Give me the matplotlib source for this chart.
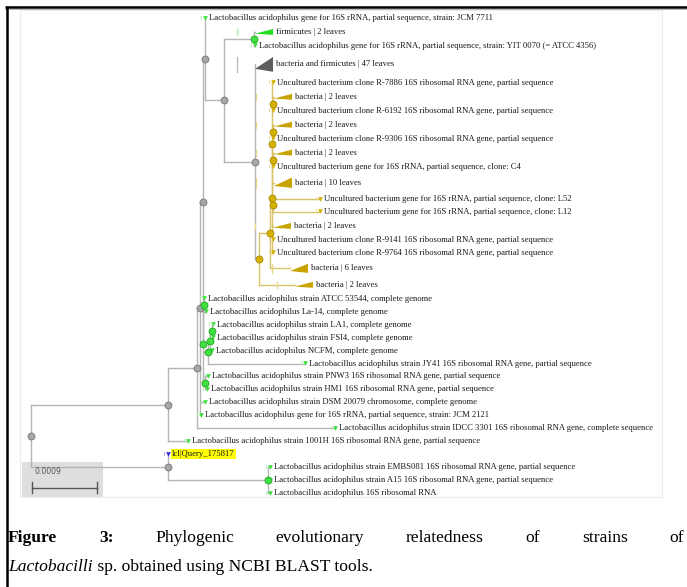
import math
import matplotlib
matplotlib.use("Agg")
import matplotlib.pyplot as plt
from matplotlib.patches import Rectangle

# ---------------- data: leaves from top to bottom ----------------
leaf_labels = [
    "Lactobacillus acidophilus gene for 16S rRNA, partial sequence, strain: JCM 7711",
    "firmicutes",
    "Lactobacillus acidophilus gene for 16S rRNA, partial sequence, strain: YIT 0070 (= ATCC 4356)",
    "bacteria and firmicutes",
    "Uncultured bacterium clone R-7886 16S ribosomal RNA gene, partial sequence",
    "bacteria",
    "Uncultured bacterium clone R-6192 16S ribosomal RNA gene, partial sequence",
    "bacteria",
    "Uncultured bacterium clone R-9306 16S ribosomal RNA gene, partial sequence",
    "bacteria",
    "Uncultured bacterium gene for 16S rRNA, partial sequence, clone: C4",
    "bacteria",
    "Uncultured bacterium gene for 16S rRNA, partial sequence, clone: L52",
    "Uncultured bacterium gene for 16S rRNA, partial sequence, clone: L12",
    "bacteria",
    "Uncultured bacterium clone R-9141 16S ribosomal RNA gene, partial sequence",
    "Uncultured bacterium clone R-9764 16S ribosomal RNA gene, partial sequence",
    "bacteria",
    "bacteria",
    "Lactobacillus acidophilus strain ATCC 53544, complete genome",
    "Lactobacillus acidophilus La-14, complete genome",
    "Lactobacillus acidophilus strain LA1, complete genome",
    "Lactobacillus acidophilus strain FSI4, complete genome",
    "Lactobacillus acidophilus NCFM, complete genome",
    "Lactobacillus acidophilus strain JY41 16S ribosomal RNA gene, partial sequence",
    "Lactobacillus acidophilus strain PNW3 16S ribosomal RNA gene, partial sequence",
    "Lactobacillus acidophilus strain HM1 16S ribosomal RNA gene, partial sequence",
    "Lactobacillus acidophilus strain DSM 20079 chromosome, complete genome",
    "Lactobacillus acidophilus gene for 16S rRNA, partial sequence, strain: JCM 2121",
    "Lactobacillus acidophilus strain IDCC 3301 16S ribosomal RNA gene, complete sequence",
    "Lactobacillus acidophilus strain 1001H 16S ribosomal RNA gene, partial sequence",
    "lcl|Query_175817",
    "Lactobacillus acidophilus strain EMBS081 16S ribosomal RNA gene, partial sequence",
    "Lactobacillus acidophilus strain A15 16S ribosomal RNA gene, partial sequence",
    "Lactobacillus acidophilus 16S ribosomal RNA",
]
# collapsed subtree size (0 = single sequence)
leaf_count = [0, 2, 0, 47, 0, 2, 0, 2, 0, 2, 0, 10, 0, 0, 2, 0, 0, 6, 2,
              0, 0, 0, 0, 0, 0, 0, 0, 0, 0, 0, 0, 0, 0, 0, 0]
leaf_kind = ["lacto", "lacto", "lacto", "mixed"] + ["bact"] * 15 + ["lacto"] * 12 + ["query"] + ["lacto"] * 3
leaf_parent = ["U", "W", "W", "C", "J", "p1", "p1", "p2", "p2", "p3", "p3", "J", "p5", "p5",
               "I", "I", "I", "H", "Gd", "K", "K", "L1", "L1", "L2", "L3", "M", "M",
               "N1", "N1", "B", "A", "Q", "Q2", "Q2", "Q2"]
# distance from root (substitutions / site)
leaf_depth = [0.002409, 0.003102, 0.003102, 0.003102, 0.003351, 0.003365, 0.003351, 0.003365,
              0.003351, 0.003365, 0.003351, 0.003365, 0.004002, 0.004002, 0.003351, 0.003351,
              0.003351, 0.003586, 0.003655, 0.002396, 0.002423, 0.002520, 0.002520, 0.002506,
              0.003794, 0.002451, 0.002430, 0.002409, 0.002354, 0.004209, 0.002174, 0.001897,
              0.003309, 0.003309, 0.003309]

# internal nodes
node_names = ["R", "A", "Q", "B", "N1", "P", "U", "V", "W", "C", "Gd", "H", "I", "J",
              "p1", "p2", "p3", "p5", "G1", "K", "L3", "L2", "L1", "M", "Q2"]
node_parent = [None, "R", "R", "A", "B", "N1", "P", "U", "V", "V", "C", "Gd", "H", "I",
               "J", "J", "J", "J", "P", "G1", "G1", "L3", "L2", "G1", "Q"]
node_depth = [0.0, 0.001897, 0.001897, 0.002298, 0.002340, 0.002375, 0.002409, 0.002672,
              0.003088, 0.003102, 0.003157, 0.003309, 0.003330, 0.003337, 0.003344, 0.003344,
              0.003344, 0.003351, 0.002382, 0.002389, 0.002451, 0.002478, 0.002506, 0.002416,
              0.003282]

scale_bar = 0.0009

# ---------------- styles ----------------
node_fill = {"lacto": "#3fe03f", "bact": "#d6b200", "mixed": "#a6a6a6", "query": "#3535d0"}
node_edge = {"lacto": "#1fa81f", "bact": "#a88a00", "mixed": "#777777", "query": "#20209a"}
line_col = {"bact": "#d9c46a"}
tick_col = {"lacto": "#a8eea8", "bact": "#e6d68a", "mixed": "#b8b8b8", "query": "#a0a0ee"}
tri_col = {"lacto": "#22dd22", "bact": "#c9a400", "mixed": "#5e5e5e"}
GRAY = "#b5b5b5"
LFS = 6.2

fig = plt.figure(figsize=(6.87, 5.87), dpi=100)
bg = fig.add_axes([0, 0, 1, 1])
bg.set_xlim(0, 687)
bg.set_ylim(587, 0)
bg.axis("off")

ax = fig.add_axes([0, 0, 1, 1])
ax.axis("off")
ax.patch.set_alpha(0)
PX = 0.0009 / 65.0          # tree units per pixel
ROOT_X = 31
TOP = 18
ax.set_xlim(-ROOT_X * PX, (687 - ROOT_X) * PX)
ax.set_ylim(587 - TOP, -TOP)

# frame + panel
bg.plot([5, 687], [6.8, 6.8], color="black", lw=1.8, solid_capstyle="butt")
bg.plot([5, 687], [9.2, 9.2], color="#9a9a9a", lw=0.5)
bg.plot([6.5, 6.5], [6, 587], color="black", lw=1.8, solid_capstyle="butt")
bg.add_patch(Rectangle((20, 10), 642, 487, fill=False, ec="#ececec", lw=0.8))
bg.add_patch(Rectangle((22, 462), 81, 35, fc="#dedede", ec="none"))

# ---------------- layout rows ----------------
def row_height(n):
    return 13.0 if n == 0 else 13.0 + 2.0 * math.log2(n)

hs = [row_height(n) for n in leaf_count]
ys = [0.0]
for a, b in zip(hs[:-1], hs[1:]):
    ys.append(ys[-1] + (a + b) / 2)
leaf_y = [v * 475.0 / ys[-1] for v in ys]

depth = dict(zip(node_names, node_depth))
children = {n: [] for n in node_names}
for n, p in zip(node_names, node_parent):
    if p:
        children[p].append(("node", n))
for i, p in enumerate(leaf_parent):
    children[p].append(("leaf", i))

node_y = {}


def get_y(kind, key):
    if kind == "leaf":
        return leaf_y[key]
    if key not in node_y:
        cy = [get_y(*c) for c in children[key]]
        node_y[key] = (min(cy) + max(cy)) / 2
    return node_y[key]


def get_x(kind, key):
    return leaf_depth[key] if kind == "leaf" else depth[key]


def kinds(kind, key):
    if kind == "leaf":
        return {leaf_kind[key]}
    s = set()
    for c in children[key]:
        s |= kinds(*c)
    return s


def kind_of(kind, key):
    s = kinds(kind, key)
    return s.pop() if len(s) == 1 else "mixed"


# ---------------- branches ----------------
for n in node_names:
    d = depth[n]
    k = kind_of("node", n)
    col = line_col.get(k, GRAY)
    cy = [get_y(*c) for c in children[n]]
    ax.plot([d, d], [min(cy), max(cy)], color=col, lw=1.0, zorder=1)
    for c in children[n]:
        ax.plot([d, get_x(*c)], [get_y(*c)] * 2, color=col, lw=1.0, zorder=1)

# ---------------- leaves / collapsed groups ----------------
TRI_W = 18
for i, lab in enumerate(leaf_labels):
    x, y, n, k = leaf_depth[i], leaf_y[i], leaf_count[i], leaf_kind[i]
    if n:
        h = 4 + 6.5 * math.log10(n)
        ax.fill([x, x + TRI_W * PX, x + TRI_W * PX], [y + 0.3 * h, y - 0.5 * h, y + 0.5 * h],
                color=tri_col[k], lw=0, zorder=3)
        ax.plot([x - 18 * PX] * 2, [y - h / 2, y + h / 2], color=tick_col[k], lw=0.9, zorder=1)
        ax.text(x + (TRI_W + 3) * PX, y, f"{lab} | {n} leaves", fontsize=LFS,
                family="Liberation Serif", color="#1a1a1a", va="center", ha="left")
    else:
        ax.plot([x - 4 * PX] * 2, [y - 2.5, y + 0.5], color=tick_col[k], lw=0.6, zorder=1)
        ax.plot(x, y - 0.5, marker="v", ms=3.4, mfc=node_fill[k], mec="none", zorder=4)
        kw = {}
        if k == "query":
            kw["bbox"] = dict(boxstyle="square,pad=0.12", fc="#ffff00", ec="none")
        ax.text(x + 4 * PX, y, lab, fontsize=LFS, family="Liberation Serif",
                color="#1a1a1a", va="center", ha="left", **kw)

# ---------------- internal node markers ----------------
for n in node_names:
    k = kind_of("node", n)
    ax.plot(depth[n], get_y("node", n), marker="o", ms=5.0, mfc=node_fill[k],
            mec=node_edge[k], mew=0.6, zorder=5)

# ---------------- scale bar ----------------
yb = 488 - TOP
ax.plot([PX, PX + scale_bar], [yb, yb], color="#555555", lw=1.0)
for xb in (PX, PX + scale_bar):
    ax.plot([xb, xb], [yb - 6, yb + 5], color="#555555", lw=1.0)
ax.text(3 * PX, 471 - TOP, f"{scale_bar:g}", fontsize=5.6, family="DejaVu Sans",
        color="#555555", va="center", ha="left")

# ---------------- caption ----------------
renderer = fig.canvas.get_renderer()
CAP = dict(fontsize=12.6, family="Liberation Serif", color="black", va="center")
words = [("Figure", "bold"), ("3:", "bold"), ("Phylogenic", "normal"), ("evolutionary", "normal"),
         ("relatedness", "normal"), ("of", "normal"), ("strains", "normal"), ("of", "normal")]
arts = [bg.text(0, 538, w, fontweight=fw, **CAP) for w, fw in words]


def width_px(t):
    return t.get_window_extent(renderer).width


widths = [width_px(t) for t in arts]
left, right = 8, 684
gap = (right - left - sum(widths)) / (len(words) - 1)
x = left
for t, w in zip(arts, widths):
    t.set_x(x)
    x += w + gap

t1 = bg.text(8, 567, "Lactobacilli", style="italic", **CAP)
w1 = width_px(t1)
bg.text(8 + w1, 567, " sp. obtained using NCBI BLAST tools.", **CAP)

fig.savefig("out.png", dpi=100)
